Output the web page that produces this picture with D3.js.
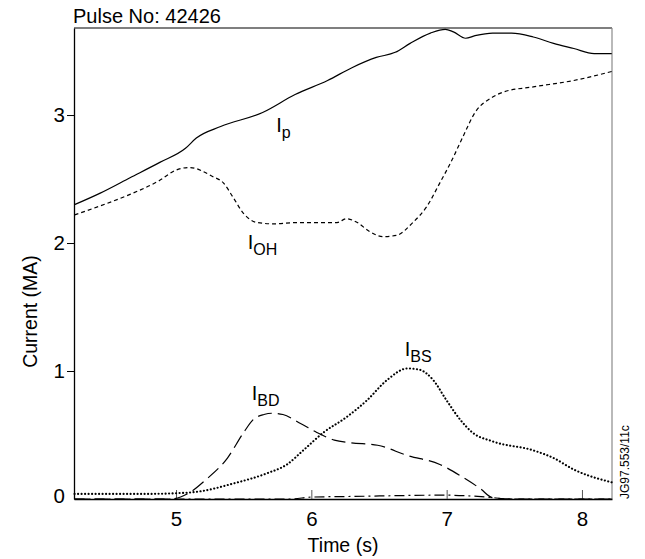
<!DOCTYPE html>
<html>
<head>
<meta charset="utf-8">
<script src="https://cdn.jsdelivr.net/npm/d3@7"></script>
<style>
  html, body { margin: 0; padding: 0; background: #fff; }
  svg { display: block; font-family: "Liberation Sans", Arial, Helvetica, sans-serif; }
</style>
</head>
<body>
<svg id="chart" width="645" height="559"></svg>
<script>
// Plasma current components for pulse 42426 (time in s, current in MA)
const ipT  = [4.25, 4.44, 4.66, 4.88, 5.07, 5.15, 5.33, 5.64, 5.88, 6.12, 6.30, 6.48, 6.62, 6.73, 6.88, 6.99, 7.05, 7.14, 7.21, 7.34, 7.48, 7.64, 7.79, 7.94, 8.09, 8.22];
const ipI  = [2.30, 2.39, 2.51, 2.63, 2.74, 2.82, 2.91, 3.02, 3.16, 3.27, 3.37, 3.45, 3.49, 3.56, 3.64, 3.67, 3.65, 3.60, 3.62, 3.64, 3.64, 3.61, 3.56, 3.52, 3.48, 3.48];

const ohT  = [4.25, 4.44, 4.66, 4.88, 5.00, 5.10, 5.27, 5.35, 5.42, 5.50, 5.60, 5.72, 5.89, 6.12, 6.19, 6.26, 6.34, 6.43, 6.53, 6.63, 6.75, 6.85, 6.95, 7.04, 7.12, 7.21, 7.34, 7.42, 7.64, 7.94, 8.22];
const ohI  = [2.22, 2.29, 2.38, 2.49, 2.57, 2.59, 2.52, 2.47, 2.36, 2.23, 2.16, 2.15, 2.16, 2.16, 2.16, 2.19, 2.16, 2.09, 2.05, 2.06, 2.16, 2.28, 2.47, 2.65, 2.83, 3.02, 3.14, 3.18, 3.22, 3.27, 3.34];

const bdT  = [4.25, 4.96, 5.10, 5.22, 5.38, 5.50, 5.57, 5.65, 5.71, 5.79, 5.92, 6.04, 6.17, 6.29, 6.49, 6.71, 6.95, 7.12, 7.25, 7.34, 7.50, 8.22];
const bdI  = [0.00, 0.00, 0.05, 0.15, 0.32, 0.52, 0.62, 0.66, 0.67, 0.66, 0.59, 0.52, 0.46, 0.44, 0.42, 0.34, 0.27, 0.17, 0.08, 0.01, 0.00, 0.00];

const bsT  = [4.25, 4.81, 5.00, 5.18, 5.42, 5.67, 5.82, 5.94, 6.09, 6.26, 6.41, 6.56, 6.71, 6.80, 6.90, 7.00, 7.10, 7.19, 7.34, 7.64, 7.79, 7.94, 8.22];
const bsI  = [0.04, 0.04, 0.045, 0.06, 0.12, 0.20, 0.27, 0.38, 0.52, 0.64, 0.77, 0.93, 1.02, 1.01, 0.93, 0.77, 0.62, 0.52, 0.45, 0.38, 0.32, 0.23, 0.13];

const lhT  = [4.25, 5.85, 6.00, 6.30, 6.99, 7.15, 7.35, 7.45, 8.22];
const lhI  = [0.00, 0.00, 0.015, 0.02, 0.03, 0.025, 0.01, 0.00, 0.00];

const xTicks = [5, 6, 7, 8];
const yTicks = [0, 1, 2, 3];

const seriesList = [
  { t: ipT, v: ipI, dash: null },
  { t: ohT, v: ohI, dash: "4 3" },
  { t: bdT, v: bdI, dash: "14 6" },
  { t: bsT, v: bsI, dash: "0.1 3.4", dotted: true },
  { t: lhT, v: lhI, dash: "10 4 2 4" }
];

// Curve labels: main letter plus subscript, anchored in data coordinates
const curveLabels = [
  { t: 5.74, v: 2.87, sub: "p" },
  { t: 5.53, v: 1.95, sub: "OH" },
  { t: 5.56, v: 0.77, sub: "BD" },
  { t: 6.69, v: 1.12, sub: "BS" }
];

const svg = d3.select("#chart");
const m = { left: 74, right: 33, top: 28, bottom: 60 };
const W = 645, H = 559;

const x = d3.scaleLinear().domain([4.246, 8.222]).range([m.left, W - m.right]);
const y = d3.scaleLinear().domain([0, 3.68]).range([H - m.bottom, m.top]);

// frame: top and right edges
svg.append("line")
  .attr("x1", m.left).attr("x2", W - m.right)
  .attr("y1", m.top).attr("y2", m.top)
  .attr("stroke", "#000").attr("stroke-width", 1.2);
svg.append("line")
  .attr("x1", W - m.right).attr("x2", W - m.right)
  .attr("y1", m.top).attr("y2", H - m.bottom)
  .attr("stroke", "#8a8a8a").attr("stroke-width", 1.2);

// x axis with inward ticks
const xAxis = svg.append("g")
  .attr("transform", `translate(0,${H - m.bottom})`)
  .call(d3.axisBottom(x).tickValues(xTicks).tickFormat(d3.format("d")).tickSizeInner(-9).tickSizeOuter(0).tickPadding(12));
xAxis.select(".domain").attr("stroke", "#000").attr("stroke-width", 1.3);
xAxis.selectAll(".tick line").attr("stroke", "#555");
xAxis.selectAll(".tick text").attr("font-size", 20.5).attr("fill", "#000").attr("font-family", "Liberation Sans, Arial, sans-serif");

// y axis with outward ticks
const yAxis = svg.append("g")
  .attr("transform", `translate(${m.left},0)`)
  .call(d3.axisLeft(y).tickValues(yTicks).tickFormat(d3.format("d")).tickSizeInner(7).tickSizeOuter(0).tickPadding(2));
yAxis.select(".domain").attr("stroke", "#000").attr("stroke-width", 1.3);
yAxis.selectAll(".tick line").attr("stroke", "#000");
yAxis.selectAll(".tick text").attr("font-size", 20.5).attr("fill", "#000").attr("font-family", "Liberation Sans, Arial, sans-serif");
yAxis.selectAll(".tick").filter(d => d === 0).select("line").remove();
yAxis.selectAll(".tick").filter(d => d === 0).select("text").attr("dy", "0.15em");

// curves
const line = d3.line()
  .x(d => x(d[0]))
  .y(d => y(d[1]))
  .curve(d3.curveMonotoneX);

const plot = svg.append("g");
seriesList.forEach(s => {
  const pts = s.t.map((t, i) => [t, s.v[i]]);
  plot.append("path")
    .datum(pts)
    .attr("d", line)
    .attr("fill", "none")
    .attr("stroke", "#000")
    .attr("stroke-width", s.dotted ? 2.1 : 1.2)
    .attr("stroke-linecap", s.dotted ? "round" : "butt")
    .attr("stroke-dasharray", s.dash);
});

// curve labels
curveLabels.forEach(l => {
  const txt = svg.append("text")
    .attr("x", x(l.t)).attr("y", y(l.v))
    .attr("font-size", 20).attr("fill", "#000");
  txt.append("tspan").text("I");
  txt.append("tspan").attr("dy", 6).attr("font-size", 16).text(l.sub);
});

// titles
svg.append("text")
  .attr("x", m.left - 1).attr("y", 23)
  .attr("font-size", 20).attr("fill", "#000")
  .text("Pulse No: 42426");

svg.append("text")
  .attr("x", (m.left + W - m.right) / 2).attr("y", H - 7)
  .attr("text-anchor", "middle")
  .attr("font-size", 19.5).attr("fill", "#000")
  .text("Time (s)");

svg.append("text")
  .attr("transform", `translate(37,${(m.top + H - m.bottom) / 2 + 48}) rotate(-90)`)
  .attr("text-anchor", "middle")
  .attr("font-size", 19.5).attr("fill", "#000")
  .text("Current (MA)");

svg.append("text")
  .attr("transform", `translate(629,${H - m.bottom}) rotate(-90)`)
  .attr("text-anchor", "start")
  .attr("font-size", 12).attr("fill", "#000")
  .text("JG97.553/11c");
</script>
</body>
</html>
